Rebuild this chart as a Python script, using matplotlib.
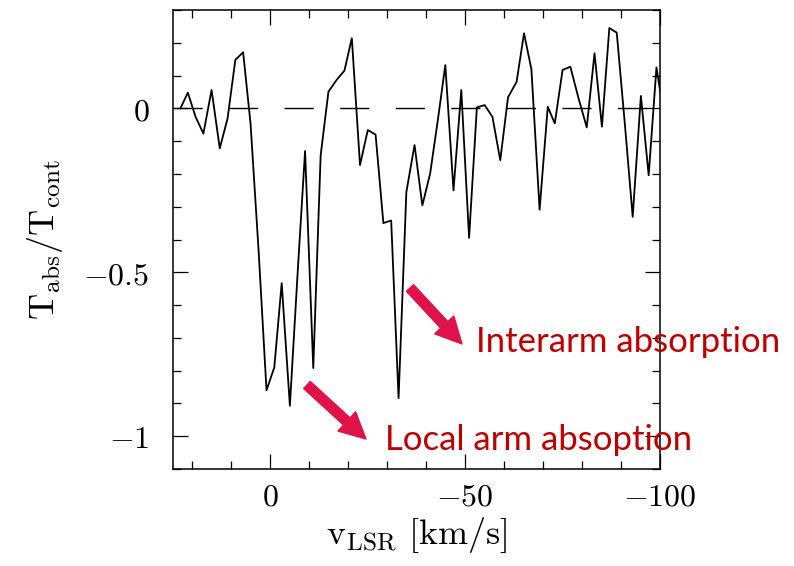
import numpy as np
import matplotlib
matplotlib.use("Agg")
import matplotlib.pyplot as plt
from matplotlib.ticker import MultipleLocator, FixedLocator

plt.rcParams["mathtext.fontset"] = "cm"
plt.rcParams["font.family"] = "serif"

# Espectro de absorción (velocidad en km/s, canal ~2 km/s)
velocidad = [23.1, 21.2, 19.2, 17.2, 15.1, 13.0, 11.0, 9.0, 7.0, 5.1,
             3.0, 1.0, -1.0, -2.9, -5.0, -7.0, -8.9, -11.0, -12.9, -14.9,
             -17.0, -19.0, -20.9, -23.0, -25.0, -27.0, -29.0, -31.0, -32.9, -34.9,
             -37.0, -39.0, -41.0, -43.0, -44.9, -47.0, -49.0, -51.0, -53.0, -55.0,
             -57.0, -59.0, -61.0, -63.2, -65.1, -67.0, -69.1, -71.2, -73.0, -75.0,
             -77.0, -79.0, -81.2, -83.2, -85.1, -87.0, -88.9, -91.0, -93.0, -95.1,
             -97.1, -99.1, -101.0]
t_abs = [0.0, 0.048, -0.026, -0.077, 0.056, -0.122, -0.031, 0.148, 0.171, -0.046,
         -0.44, -0.86, -0.79, -0.533, -0.907, -0.50, -0.13, -0.792, -0.143, 0.051,
         0.087, 0.115, 0.214, -0.173, -0.066, -0.08, -0.35, -0.342, -0.884, -0.255,
         -0.112, -0.296, -0.199, -0.034, 0.132, -0.25, 0.056, -0.395, 0.003, 0.01,
         -0.026, -0.158, 0.034, 0.081, 0.229, 0.119, -0.309, 0.005, -0.046, 0.117,
         0.127, 0.035, -0.058, 0.168, -0.056, 0.245, 0.231, -0.05, -0.331, 0.038,
         -0.204, 0.125, -0.02]

x_ticks = [0, -50, -100]
y_ticks = [0, -0.5, -1]

fig = plt.figure(figsize=(7.94, 5.66), dpi=100)
ax = fig.add_axes([0.2179, 0.1714, 0.6133, 0.8109])

ax.plot(velocidad, t_abs, color="black", linewidth=1.3)
ax.plot([25, -100], [0, 0], color="black", linewidth=1.0, dashes=(21, 19))

ax.set_xlim(25, -100)
ax.set_ylim(-1.1, 0.3)

ax.xaxis.set_major_locator(FixedLocator(x_ticks))
ax.xaxis.set_minor_locator(MultipleLocator(10))
ax.yaxis.set_major_locator(FixedLocator(y_ticks))
ax.yaxis.set_minor_locator(MultipleLocator(0.1))
ax.set_xticklabels([r"$%g$" % t for t in x_ticks])
ax.set_yticklabels([r"$%g$" % t for t in y_ticks])

ax.tick_params(which="both", direction="in", top=True, right=True, width=0.9)
ax.tick_params(which="major", length=11, labelsize=23)
ax.tick_params(which="minor", length=5.5)
ax.tick_params(axis="x", which="major", pad=9)
ax.tick_params(axis="y", which="major", pad=17)
for s in ax.spines.values():
    s.set_linewidth(1.1)

ax.set_xlabel(r"$\mathrm{v_{LSR}\ [km/s]}$", fontsize=26, labelpad=2)
ax.set_ylabel(r"$\mathrm{T_{abs}/T_{cont}}$", fontsize=26, labelpad=13)

# Flechas y etiquetas en rojo
rojo_flecha = "#E0124A"
rojo_texto = "#C00000"
W, H = 794, 566
flechas = [((307, 385), (366, 439)), ((410, 288), (462, 344))]
for (x0, y0), (x1, y1) in flechas:
    ax.annotate("", xy=(x1 / W, 1 - y1 / H), xytext=(x0 / W, 1 - y0 / H),
                xycoords="figure fraction", textcoords="figure fraction",
                arrowprops=dict(arrowstyle="simple,head_length=0.75,head_width=0.75,tail_width=0.28",
                                color=rojo_flecha, mutation_scale=25, shrinkA=0, shrinkB=0))

fig.text(385 / W, 1 - 440 / H, "Local arm absoption", color=rojo_texto,
         fontsize=25, family="Lato", va="center", ha="left")
fig.text(476 / W, 1 - 342 / H, "Interarm absorption", color=rojo_texto,
         fontsize=25, family="Lato", va="center", ha="left")

fig.savefig("out.png", dpi=100)
